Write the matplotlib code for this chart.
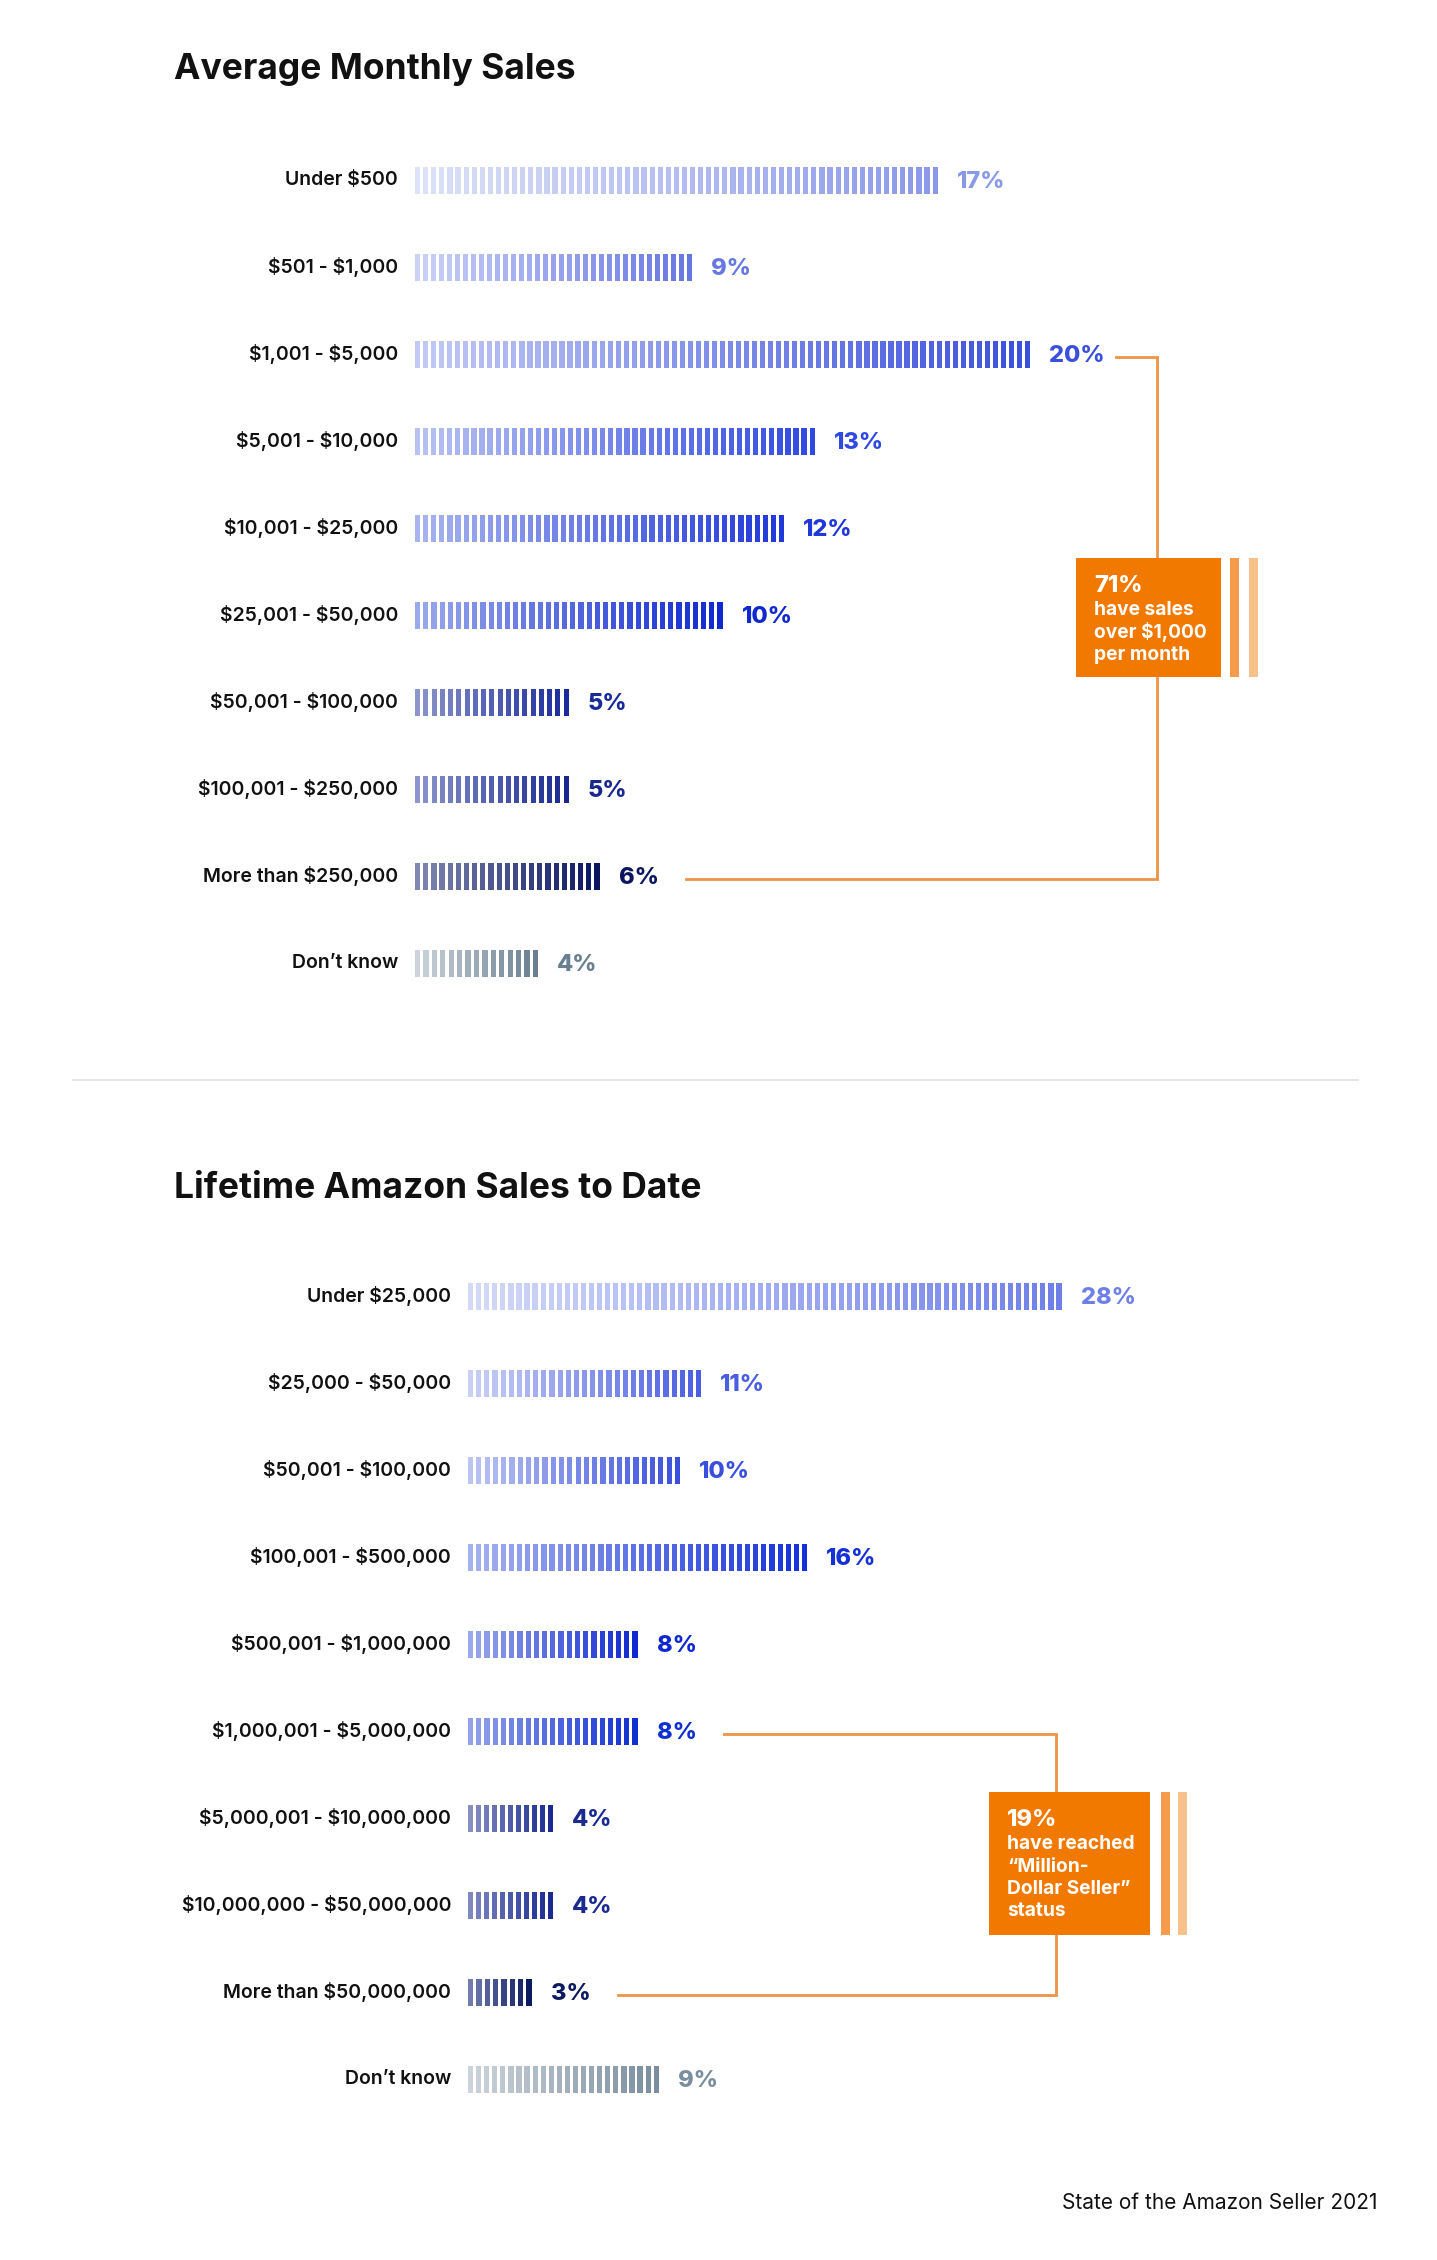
import numpy as np
import matplotlib
matplotlib.use("Agg")
import matplotlib.pyplot as plt
from matplotlib.colors import to_rgb
from matplotlib.patches import Rectangle
from matplotlib.lines import Line2D
from matplotlib.transforms import Affine2D

plt.rcParams['font.family'] = ['Inter', 'DejaVu Sans']

# данные: средние продажи в месяц
monthly_labels = ['Under $500', '$501 - $1,000', '$1,001 - $5,000', '$5,001 - $10,000',
                  '$10,001 - $25,000', '$25,001 - $50,000', '$50,001 - $100,000',
                  '$100,001 - $250,000', 'More than $250,000', 'Don\u2019t know']
monthly_values = [17, 9, 20, 13, 12, 10, 5, 5, 6, 4]

# данные: продажи на Amazon за всё время
lifetime_labels = ['Under $25,000', '$25,000 - $50,000', '$50,001 - $100,000',
                   '$100,001 - $500,000', '$500,001 - $1,000,000', '$1,000,001 - $5,000,000',
                   '$5,000,001 - $10,000,000', '$10,000,000 - $50,000,000',
                   'More than $50,000,000', 'Don\u2019t know']
lifetime_values = [28, 11, 10, 16, 8, 8, 4, 4, 3, 9]

# цвета градиента (начало, конец) для каждой строки
monthly_colors = [('#dde2f8', '#8a98e8'), ('#cbd2f5', '#6677e2'), ('#c2caf3', '#3a50dc'),
                  ('#b8c2f1', '#3049e0'), ('#a8b5ee', '#2038d8'), ('#9aa9ea', '#1028d0'),
                  ('#8c95cc', '#1a2a9a'), ('#8c95cc', '#18288f'), ('#8088b0', '#0a1560'),
                  ('#ccd3da', '#6a8090')]
lifetime_colors = [('#d3d9f7', '#6e80e8'), ('#c9d0f5', '#4a5ee0'), ('#bcc5f2', '#3a50dc'),
                   ('#a4b2ee', '#1530d8'), ('#9aa9ec', '#1028d0'), ('#93a2ea', '#1030d0'),
                   ('#8890c0', '#1a2a90'), ('#8088c0', '#1a2a90'), ('#727cb0', '#0c1a60'),
                   ('#ccd3da', '#7a8e9e')]

W, H = 1437, 2260
fig = plt.figure(figsize=(W / 100, H / 100), dpi=100)
fig.patch.set_facecolor('white')
# преобразование из пикселей картинки (y вниз) в координаты фигуры
pix = Affine2D().scale(1 / W, -1 / H).translate(0, 1) + fig.transFigure

PITCH, STRIPE, BAR_H = 8.0, 5.2, 27.0


def make_axes(x0, ppu, xmax, row0, step):
    top = row0 - step / 2
    ax = fig.add_axes([x0 / W, 1 - (top + 10 * step) / H, xmax * ppu / W, 10 * step / H])
    ax.set_xlim(0, xmax)
    ax.set_ylim(9.5, -0.5)
    ax.axis('off')
    return ax


def draw_bars(ax, labels, values, colors, ppu, step):
    for i, (lab, v, (c0, c1)) in enumerate(zip(labels, values, colors)):
        n = int(round(v * ppu / PITCH))
        # полоски равномерно заполняют отрезок [0, v]
        pitch = (v - STRIPE / ppu) / (n - 1)
        lefts = np.arange(n) * pitch
        t = np.linspace(0, 1, n)[:, None]
        cols = (1 - t) * np.array(to_rgb(c0)) + t * np.array(to_rgb(c1))
        ax.barh(np.full(n, i), STRIPE / ppu, left=lefts, height=BAR_H / step,
                color=cols, linewidth=0)
        ax.text(-17 / ppu, i, lab, ha='right', va='center', fontsize=14,
                fontweight='semibold', color='#111111', parse_math=False)
        ax.text(v + 19 / ppu, i + 0.02, f'{v}%', ha='left', va='center', fontsize=17,
                fontweight='heavy', color=c1)


def bracket(ax, values, r_top, r_bot, x_vert, ppu):
    off = 86 / ppu
    ax.plot([values[r_top] + off, x_vert, x_vert, values[r_bot] + off],
            [r_top + 0.04, r_top + 0.04, r_bot + 0.03, r_bot + 0.03],
            color='#ec9448', lw=2, zorder=1, solid_joinstyle='miter', clip_on=False)


def callout(x0, y0, x1, y1, s1, s2, big, lines):
    fig.add_artist(Rectangle((x0, y0), x1 - x0, y1 - y0, transform=pix,
                             facecolor='#f27900', edgecolor='none', zorder=5))
    fig.add_artist(Rectangle((s1, y0), 9, y1 - y0, transform=pix,
                             facecolor='#f59b4c', edgecolor='none', zorder=5))
    fig.add_artist(Rectangle((s2, y0), 9, y1 - y0, transform=pix,
                             facecolor='#f8c08a', edgecolor='none', zorder=5))
    fig.text(x0 + 18, y0 + 34, big, transform=pix, fontsize=17, fontweight='heavy',
             color='white', zorder=6, va='baseline')
    for k, ln in enumerate(lines):
        fig.text(x0 + 18, y0 + 57 + 22.5 * k, ln, transform=pix, fontsize=13.8,
                 fontweight='bold', color='white', zorder=6, va='baseline',
                 parse_math=False)


# верхний график
ppu1, step1 = 30.75, 87.0
ax1 = make_axes(415, ppu1, 30, 180, step1)
draw_bars(ax1, monthly_labels, monthly_values, monthly_colors, ppu1, step1)
bracket(ax1, monthly_values, 2, 8, (1157 - 415) / ppu1, ppu1)
callout(1076, 558, 1221, 677, 1230, 1249, '71%',
        ['have sales', 'over $1,000', 'per month'])

# нижний график
ppu2, step2 = 21.2, 87.0
ax2 = make_axes(468, ppu2, 40, 1296, step2)
draw_bars(ax2, lifetime_labels, lifetime_values, lifetime_colors, ppu2, step2)
bracket(ax2, lifetime_values, 5, 8, (1056 - 468) / ppu2, ppu2)
callout(989, 1792, 1150, 1935, 1161, 1178, '19%',
        ['have reached', '\u201cMillion-', 'Dollar Seller\u201d', 'status'])

# заголовки, разделитель, подпись
fig.text(174, 70, 'Average Monthly Sales', transform=pix, fontsize=25.5,
         fontweight='bold', color='#111111', va='center')
fig.text(174, 1188, 'Lifetime Amazon Sales to Date', transform=pix, fontsize=25.5,
         fontweight='bold', color='#111111', va='center')
fig.add_artist(Line2D([73, 1358], [1080, 1080], transform=pix, color='#e4e4e4', lw=1.3))
fig.text(1378, 2203, 'State of the Amazon Seller 2021', transform=pix, fontsize=15,
         color='#111111', ha='right', va='center')

fig.savefig('out.png', dpi=100, facecolor='white')
